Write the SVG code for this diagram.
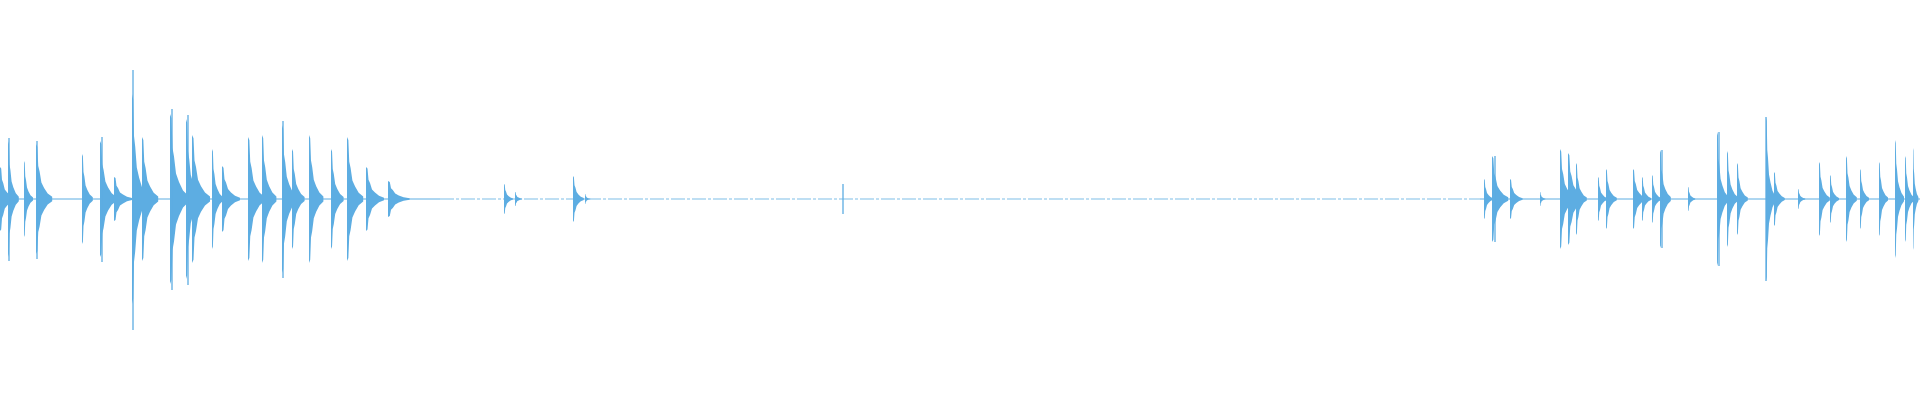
<svg xmlns="http://www.w3.org/2000/svg" width="1920" height="400" viewBox="0 0 1920 400">
<style>.s{stroke:#5dade2;stroke-width:1.3;fill:none}.e{fill:#5dade2}.b{stroke:#5dade2;stroke-width:1}</style>
<rect width="1920" height="400" fill="#fff"/>
<defs>
<path id="env" d="M0,-1 L1.5,-0.95 L2.5,-0.6 L4,-0.5 L6,-0.3 L9,-0.2 L13,-0.1 L18,-0.04 L18,0.04 L13,0.1 L9,0.2 L6,0.3 L4,0.5 L2.5,0.6 L1.5,0.95 L0,1 Z"/>
</defs>
<line class="b" x1="0" y1="199" x2="440" y2="199"/>
<line class="b" x1="440" y1="199" x2="1480" y2="199" stroke-dasharray="14 2 3 2" opacity="0.8"/>
<line class="b" x1="1480" y1="199" x2="1920" y2="199"/>
<g class="e">
<use href="#env" transform="translate(0,199) scale(0.8,32)"/>
<use href="#env" transform="translate(8,199) scale(0.6,58)"/>
<use href="#env" transform="translate(24,199) scale(0.5,38)"/>
<use href="#env" transform="translate(36,199) scale(0.9,55)"/>
<use href="#env" transform="translate(82,199) scale(0.6,45)"/>
<use href="#env" transform="translate(100,199) scale(0.9,58)"/>
<use href="#env" transform="translate(114,199) scale(1,22)"/>
<use href="#env" transform="translate(132,199) scale(0.8,105)"/>
<use href="#env" transform="translate(142,199) scale(0.9,62)"/>
<use href="#env" transform="translate(170,199) scale(1,85)"/>
<use href="#env" transform="translate(186,199) scale(0.8,80)"/>
<use href="#env" transform="translate(192,199) scale(1,64)"/>
<use href="#env" transform="translate(212,199) scale(0.6,50)"/>
<use href="#env" transform="translate(222,199) scale(1,33)"/>
<use href="#env" transform="translate(248,199) scale(0.9,62)"/>
<use href="#env" transform="translate(262,199) scale(0.8,64)"/>
<use href="#env" transform="translate(282,199) scale(0.8,74)"/>
<use href="#env" transform="translate(292,199) scale(0.7,50)"/>
<use href="#env" transform="translate(309,199) scale(0.8,64)"/>
<use href="#env" transform="translate(331,199) scale(0.7,50)"/>
<use href="#env" transform="translate(347,199) scale(0.9,62)"/>
<use href="#env" transform="translate(366,199) scale(1,32)"/>
<use href="#env" transform="translate(388,199) scale(1.2,18)"/>
<use href="#env" transform="translate(504,199) scale(0.5,15)"/>
<use href="#env" transform="translate(515,199) scale(0.4,7)"/>
<use href="#env" transform="translate(573,199) scale(0.6,23)"/>
<use href="#env" transform="translate(585,199) scale(0.3,5)"/>
<use href="#env" transform="translate(1484,199) scale(0.5,20)"/>
<use href="#env" transform="translate(1492,199) scale(0.9,43)"/>
<use href="#env" transform="translate(1510,199) scale(0.7,20)"/>
<use href="#env" transform="translate(1540,199) scale(0.3,7)"/>
<use href="#env" transform="translate(1560,199) scale(0.8,50)"/>
<use href="#env" transform="translate(1568,199) scale(0.9,46)"/>
<use href="#env" transform="translate(1576,199) scale(0.6,36)"/>
<use href="#env" transform="translate(1598,199) scale(0.5,22)"/>
<use href="#env" transform="translate(1606,199) scale(0.6,30)"/>
<use href="#env" transform="translate(1633,199) scale(0.7,30)"/>
<use href="#env" transform="translate(1642,199) scale(0.5,22)"/>
<use href="#env" transform="translate(1652,199) scale(0.5,24)"/>
<use href="#env" transform="translate(1660,199) scale(0.6,49)"/>
<use href="#env" transform="translate(1688,199) scale(0.4,12)"/>
<use href="#env" transform="translate(1717,199) scale(0.6,67)"/>
<use href="#env" transform="translate(1727,199) scale(0.6,48)"/>
<use href="#env" transform="translate(1737,199) scale(0.6,36)"/>
<use href="#env" transform="translate(1766,199) scale(0.5,82)"/>
<use href="#env" transform="translate(1774,199) scale(0.6,27)"/>
<use href="#env" transform="translate(1798,199) scale(0.4,10)"/>
<use href="#env" transform="translate(1819,199) scale(0.6,37)"/>
<use href="#env" transform="translate(1830,199) scale(0.5,24)"/>
<use href="#env" transform="translate(1846,199) scale(0.6,43)"/>
<use href="#env" transform="translate(1860,199) scale(0.5,30)"/>
<use href="#env" transform="translate(1879,199) scale(0.5,37)"/>
<use href="#env" transform="translate(1895,199) scale(0.5,59)"/>
<use href="#env" transform="translate(1905,199) scale(0.5,43)"/>
<use href="#env" transform="translate(1913,199) scale(0.3,51)"/>
</g>
<path class="s" d="M133,70V330M9,138V261M37,141V259M102,137V262M172,109V290M188,115V285M283,121V278M843,184V214M1766,117V281M1719,132V266M1495,156V242M1662,150V248"/>
</svg>
